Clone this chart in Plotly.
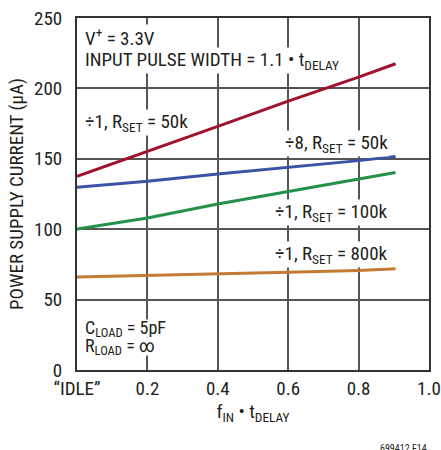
import plotly.graph_objects as go

FONT = "Liberation Sans Narrow, Arial Narrow, Roboto Condensed, sans-serif"
INK = "#231f20"
FS = 19

x_pts = [0, 0.2, 0.4, 0.6, 0.8, 0.905]
div1_50k = [137.5, 155, 173, 191, 208, 217.5]
div8_50k = [129.7, 134, 139.2, 143.9, 148.7, 151.7]
div1_100k = [100.1, 108, 117.9, 126.9, 135.6, 140.3]
div1_800k = [66, 67, 68.2, 69.5, 70.7, 71.9]

x_ticks = [0, 0.2, 0.4, 0.6, 0.8, 1.0]
x_ticktext = ["\u201cIDLE\u201d", "0.2", "0.4", "0.6", "0.8", "1.0"]
y_ticks = [0, 50, 100, 150, 200, 250]

fig = go.Figure()
series = [
    (div1_50k, "#a0122e"),
    (div8_50k, "#3b53a4"),
    (div1_100k, "#24914a"),
    (div1_800k, "#c47a35"),
]
for ys, col in series:
    fig.add_trace(go.Scatter(x=x_pts, y=ys, mode="lines",
                             line=dict(color=col, width=3), showlegend=False))

# x, y, text, anchor, font size, box height (None = auto)
notes = [
    (0.019, 236, "V<sup>+</sup> = 3.3V", "left", FS, None),
    (0.019, 220, "INPUT PULSE WIDTH = 1.1 \u2022 t<sub>DELAY</sub>", "left", FS, None),
    (0.019, 176, "\u00f71, R<sub>SET</sub> = 50k", "left", FS, None),
    (0.885, 161, "\u00f78, R<sub>SET</sub> = 50k", "right", FS, None),
    (0.885, 112, "\u00f71, R<sub>SET</sub> = 100k", "right", FS, None),
    (0.885, 82, "\u00f71, R<sub>SET</sub> = 800k", "right", FS, None),
    (0.019, 29.5, "C<sub>LOAD</sub> = 5pF", "left", 18, 17),
    (0.019, 16.5, "R<sub>LOAD</sub> = \u221e", "left", 18, 17),
]
for xv, yv, txt, anc, fs, h in notes:
    fig.add_annotation(x=xv, y=yv, text=txt, xanchor=anc, yanchor="middle",
                       showarrow=False, bgcolor="white", borderpad=0, height=h,
                       font=dict(size=fs, color=INK, family=FONT))

fig.add_annotation(x=1.0, y=0.0, xref="paper", yref="paper", yshift=-71,
                   text="699412 F14", showarrow=False, xanchor="right",
                   yanchor="top", font=dict(size=10, color=INK, family=FONT))

fig.update_xaxes(range=[0, 1.0], tickvals=x_ticks, ticktext=x_ticktext,
                 automargin=False, ticklabeloverflow="allow",
                 showgrid=True, gridcolor="#555555", gridwidth=1.5,
                 showline=True, linecolor="#333333", linewidth=2, mirror=True,
                 zeroline=False, ticks="", tickfont=dict(size=FS, color=INK, family=FONT),
                 title=dict(text="f<sub>IN</sub> \u2022 t<sub>DELAY</sub>", standoff=6,
                            font=dict(size=FS, color=INK, family=FONT)))
fig.update_yaxes(range=[0, 250], tickvals=y_ticks, automargin=False,
                 showgrid=True, gridcolor="#555555", gridwidth=1.5,
                 showline=True, linecolor="#333333", linewidth=2, mirror=True,
                 zeroline=False, ticks="", ticklabelstandoff=9,
                 tickfont=dict(size=FS, color=INK, family=FONT),
                 title=dict(text="POWER SUPPLY CURRENT (\u00b5A)", standoff=5,
                            font=dict(size=FS, color=INK, family=FONT)))

fig.update_layout(width=441, height=450, margin=dict(l=77, r=12, t=18, b=80),
                  plot_bgcolor="white", paper_bgcolor="white",
                  font=dict(family=FONT, color=INK))

# drop the page's default body margin so the figure fills the window exactly
fig.write_html("out.html", config={"displayModeBar": False},
               post_script="document.body.style.margin='0';document.body.style.overflow='hidden';")
